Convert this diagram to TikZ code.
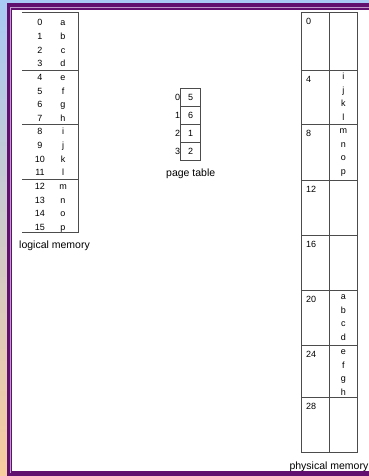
\documentclass[tikz,border=0pt]{standalone}
\usepackage{xcolor}
\usepackage{fontspec}
\setmainfont{Liberation Sans}
\usepackage{tikz}
\usetikzlibrary{positioning}
\usetikzlibrary{calc}
\definecolor{slidepurple}{HTML}{621070}
\definecolor{slidelilac}{HTML}{BE9ACC}
\definecolor{slideblue}{HTML}{A8CAF4}
\definecolor{slidepeach}{HTML}{F8CC9E}
\tikzset{
	rule/.style = {line width=0.75pt, draw=black!70},
	cell/.style = {inner sep=0pt, anchor=base, font=\fontsize{9}{10}\selectfont},
	idx/.style = {inner sep=0pt, font=\fontsize{9}{10}\selectfont},
	caption/.style = {inner sep=0pt, font=\fontsize{10.5}{12}\selectfont},
	ptcell/.style = {rectangle, rule, minimum width=20pt, minimum height=18.1pt,
	 inner sep=0pt, font=\fontsize{9}{10}\selectfont},
	memcell/.style = {rectangle, rule, inner sep=0pt},
}

\begin{document}
\begin{tikzpicture}[x=1pt,y=-1pt]
	\useasboundingbox (0,0) rectangle (369,476);
	\shade [top color=slideblue, bottom color=slidepeach] (0,0) rectangle (369,476);
	\fill [slidepurple] (6.7,3.3) rectangle (380,475.5);
	\fill [slidelilac] (10,6.7) rectangle (380,473.4);
	\fill [slidepurple] (11,8) rectangle (380,472.6);
	\fill [white] (12.3,9.6) rectangle (380,471);

	% logical memory
	\coordinate (lmtop) at (22,12);
	\coordinate (lmbot) at (78,232);
	\foreach \n/\c [count=\k from 0] in {0/a,1/b,2/c,3/d,4/e,5/f,6/g,7/h,8/i,9/j,10/k,11/l,12/m,13/n,14/o,15/p}{
		\node (ln\k) [cell] at (40,{25.8+13.65*\k}) {\n};
		\node (lc\k) [cell] at (63,{25.8+13.65*\k}) {\c};
	}
	\draw [rule] (lmtop) -- (lmtop -| lmbot) -- (lmbot) -- (lmbot -| lmtop);
	\foreach \k in {4,8,12}
		\draw [rule] ($(lmtop |- ln\k.base)+(0,-10.3)$) -- ($(lmbot |- ln\k.base)+(0,-10.3)$);
	\node (lmcap) [caption] at (54.5,245.5) {logical memory};

	% page table
	\foreach \v [count=\k from 0] in {5,6,1,2}
		\node (pt\k) [ptcell, label distance=7pt, label={[idx]left:\k}] at (190.7,{97+18.1*\k}) {\v};
	\node (ptcap) [caption, below=7.5pt of pt3] {page table};

	% physical memory
	\foreach \ya/\yb/\fa [count=\k from 0] in {12/70/0, 70/124.3/4, 124.3/180/8, 180/235/12,
	 235/290/16, 290/345/20, 345/397.7/24, 397.7/452.7/28}{
		\node (fa\k) [memcell, minimum width=27.6pt, minimum height=\yb-\ya] at (315.5,{(\ya+\yb)/2}) {};
		\node (fc\k) [memcell, minimum width=28pt, minimum height=\yb-\ya] at (343.3,{(\ya+\yb)/2}) {};
		\node (fn\k) [cell, anchor=base west] at ($(fa\k.north west)+(4.5,12.5)$) {\fa};
	}
	\foreach \f/\letters in {1/{i,j,k,l}, 2/{m,n,o,p}, 5/{a,b,c,d}, 6/{e,f,g,h}}
		\foreach \c [count=\j from 0] in \letters
			\node (fl\f\j) [cell] at ($(fc\f.north)+(0,{9.8+13.6*\j})$) {\c};
	\node (pmcap) [caption, anchor=west] at (289.3,466.7) {physical memory};
\end{tikzpicture}
\end{document}
